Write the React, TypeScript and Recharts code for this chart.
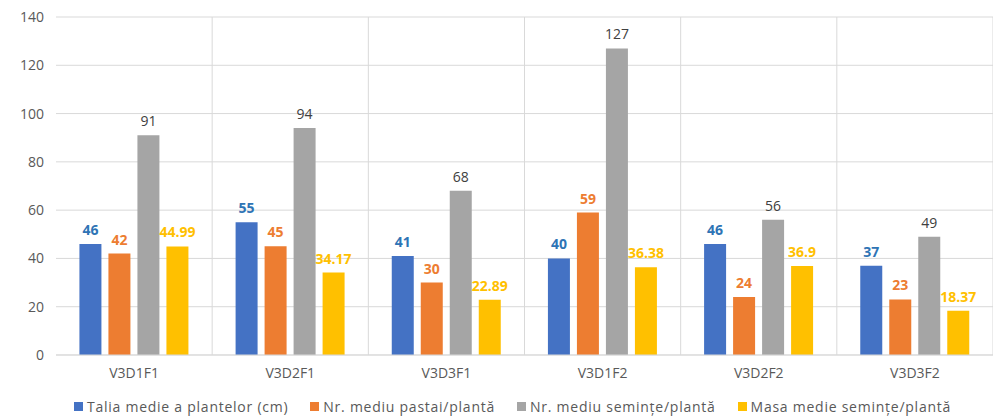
import { Bar, BarChart, CartesianGrid, LabelList, Legend, XAxis, YAxis } from "recharts";

const categories = ["V3D1F1", "V3D2F1", "V3D3F1", "V3D1F2", "V3D2F2", "V3D3F2"];
const talia = [46, 55, 41, 40, 46, 37];
const pastai = [42, 45, 30, 59, 24, 23];
const seminte = [91, 94, 68, 127, 56, 49];
const masa = [44.99, 34.17, 22.89, 36.38, 36.9, 18.37];
const yTicks = [0, 20, 40, 60, 80, 100, 120, 140];

const data = categories.map((name, i) => ({
  name,
  talia: talia[i],
  pastai: pastai[i],
  seminte: seminte[i],
  masa: masa[i],
}));

const FONT = "'Open Sans', 'Noto Sans', sans-serif";

const series = [
  { key: "talia", name: "Talia medie a plantelor (cm)", fill: "#4472C4", label: "#2E74B5", bold: true },
  { key: "pastai", name: "Nr. mediu pastai/plantă", fill: "#ED7D31", label: "#ED7D31", bold: true },
  { key: "seminte", name: "Nr. mediu semințe/plantă", fill: "#A5A5A5", label: "#404040", bold: false },
  { key: "masa", name: "Masa medie semințe/plantă", fill: "#FFC000", label: "#FFC000", bold: true },
];

const renderLegend = () => (
  <div
    style={{
      display: "flex",
      justifyContent: "center",
      gap: 22,
      paddingLeft: 24,
      paddingTop: 7,
      fontFamily: FONT,
      fontSize: 14,
      letterSpacing: 0.75,
      color: "#595959",
      whiteSpace: "nowrap",
    }}
  >
    {series.map((s) => (
      <div key={s.key} style={{ display: "flex", alignItems: "center" }}>
        <span style={{ width: 9, height: 9, background: s.fill, marginRight: 4, display: "inline-block" }} />
        <span>{s.name}</span>
      </div>
    ))}
  </div>
);

export default function App() {
  return (
    <div style={{ position: "absolute", left: 0, top: 0, background: "#fff" }}>
      <BarChart
        width={993}
        height={420}
        data={data}
        margin={{ top: 17, right: 0, bottom: 0, left: 8 }}
        barCategoryGap="15%"
        barGap={7}
      >
        <CartesianGrid
          stroke="#d9d9d9"
          verticalCoordinatesGenerator={({ offset }: any) =>
            categories.map((_, i) => offset.left + ((i + 1) * offset.width) / categories.length)
          }
        />
        <XAxis
          dataKey="name"
          height={35}
          tickLine={false}
          axisLine={{ stroke: "#d9d9d9" }}
          tick={{ fill: "#595959", fontSize: 14, fontFamily: FONT }}
          tickMargin={7}
        />
        <YAxis
          width={48}
          domain={[0, 140]}
          ticks={yTicks}
          axisLine={false}
          tickLine={false}
          tick={{ fill: "#595959", fontSize: 14, fontFamily: FONT }}
          tickMargin={6}
        />
        <Legend verticalAlign="bottom" height={30} content={renderLegend} />
        {series.map((s) => (
          <Bar key={s.key} dataKey={s.key} name={s.name} fill={s.fill} isAnimationActive={false}>
            <LabelList
              dataKey={s.key}
              position="top"
              offset={9}
              fill={s.label}
              fontSize={14}
              fontFamily={FONT}
              fontWeight={s.bold ? 700 : 500}
            />
          </Bar>
        ))}
      </BarChart>
    </div>
  );
}
